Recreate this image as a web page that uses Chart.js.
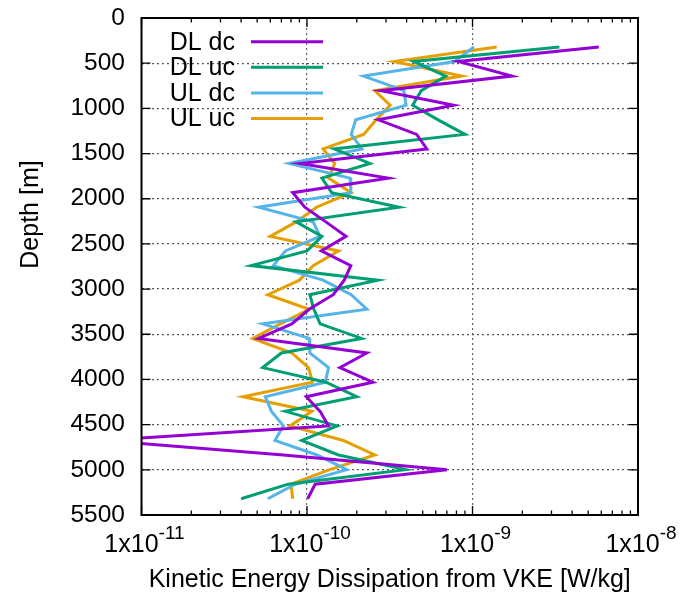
<!DOCTYPE html>
<html>
<head>
<meta charset="utf-8">
<script src="https://cdn.jsdelivr.net/npm/chart.js@4/dist/chart.umd.min.js"></script>
<style>
html,body{margin:0;padding:0;background:#fff;overflow:hidden;}
canvas{display:block;}
</style>
</head>
<body>
<canvas id="c" width="683" height="597"></canvas>
<script>
// ---- data (depth in m, dissipation in W/kg) ----
const depths = [320, 481, 643, 804, 965, 1127, 1288, 1449, 1610, 1772, 1933, 2094, 2256, 2417, 2578, 2740,
                2901, 3062, 3223, 3385, 3546, 3707, 3869, 4030, 4191, 4353, 4514, 4675, 4836, 4998, 5159, 5320];
const dlDc = [5.8e-9, 8.2e-10, 1.73e-9, 2.8e-10, 7.7e-10, 2.7e-10, 4.6e-10, 5.3e-10, 9.1e-11, 3.1e-10, 8.2e-11,
              9.7e-11, 1.3e-10, 1.72e-10, 1.22e-10, 1.84e-10, 1.68e-10, 1.44e-10, 1.03e-10, 8.1e-11, 5.1e-11,
              2.3e-10, 1.58e-10, 2.5e-10, 9.9e-11, 1.2e-10, 1.35e-10, 6e-12, 7.2e-11, 7e-10, 1.12e-10, 1.01e-10];
const dlUc = [3.35e-9, 4.4e-10, 6.9e-10, 4.9e-10, 4.35e-10, 6.2e-10, 9.0e-10, 1.46e-10, 2.4e-10, 1.23e-10, 1.41e-10,
              3.6e-10, 8.6e-11, 1.23e-10, 1.0e-10, 4.6e-11, 2.68e-10, 1.04e-10, 1.1e-10, 1.2e-10, 2.14e-10,
              7.0e-11, 5.4e-11, 1.3e-10, 2.0e-10, 7.4e-11, 1.52e-10, 9.3e-11, 1.55e-10, 3.94e-10, 7.7e-11, 4.0e-11];
const ulDc = [1.02e-9, 7.8e-10, 2.2e-10, 3.85e-10, 3.97e-10, 1.97e-10, 1.85e-10, 2.15e-10, 7.8e-11, 1.82e-10, 1.84e-10,
              5.1e-11, 1.09e-10, 1.2e-10, 7.4e-11, 6.25e-11, 1.25e-10, 1.85e-10, 2.3e-10, 5.4e-11, 1.03e-10,
              1.04e-10, 1.35e-10, 1.29e-10, 5.6e-11, 6.1e-11, 7.2e-11, 6.4e-11, 1.15e-10, 1.74e-10, 8.5e-11, 5.8e-11];
const ulUc = [1.4e-9, 3.36e-10, 8.6e-10, 2.57e-10, 3.18e-10, 2.62e-10, 2.2e-10, 1.25e-10, 1.47e-10, 1.35e-10, 1.85e-10,
              1.14e-10, 8.6e-11, 6.0e-11, 1.55e-10, 1.09e-10, 9.0e-11, 5.8e-11, 1.03e-10, 6.9e-11, 4.7e-11,
              8.1e-11, 1.02e-10, 1.08e-10, 4.1e-11, 1.07e-10, 7.9e-11, 1.66e-10, 2.57e-10, 1.37e-10, 8.0e-11, 8.2e-11];
const seriesLabels = ['DL dc', 'DL uc', 'UL dc', 'UL uc'];
const xTickValues = [1e-11, 1e-10, 1e-9, 1e-8];
const xTickBase = '1x10';
const xTickExponents = ['-11', '-10', '-9', '-8'];
const xTitle = 'Kinetic Energy Dissipation from VKE [W/kg]';
const yTitle = 'Depth [m]';

const colors = ['#9400D3', '#009E73', '#56B4E9', '#E69F00'];
const FONT = '"Liberation Sans", Arial, Helvetica, sans-serif';

function pts(vals) { return vals.map((v, i) => ({x: v, y: depths[i]})); }
const seriesValues = [dlDc, dlUc, ulDc, ulUc];

const decor = {
  id: 'decor',
  afterDatasetsDraw(chart) {
    const {ctx, chartArea: a, scales} = chart;
    const x = scales.x, y = scales.y;
    ctx.save();
    // frame
    ctx.strokeStyle = '#000';
    ctx.lineWidth = 2;
    ctx.strokeRect(a.left, a.top, a.right - a.left, a.bottom - a.top);
    // ticks
    ctx.lineWidth = 1.3;
    ctx.beginPath();
    y.ticks.forEach(t => {
      const py = y.getPixelForValue(t.value);
      ctx.moveTo(a.left, py); ctx.lineTo(a.left + 9, py);
      ctx.moveTo(a.right, py); ctx.lineTo(a.right - 9, py);
    });
    for (let d = 0; d < xTickValues.length; d++) {
      const dec = xTickValues[d];
      for (let k = 1; k < 10; k++) {
        if (d === xTickValues.length - 1 && k > 1) break;
        const px = x.getPixelForValue(dec * k);
        const L = k === 1 ? 9 : 4.5;
        ctx.moveTo(px, a.bottom); ctx.lineTo(px, a.bottom - L);
        ctx.moveTo(px, a.top); ctx.lineTo(px, a.top + L);
      }
    }
    ctx.stroke();

    // x tick labels with superscript exponents
    ctx.fillStyle = '#000';
    ctx.textBaseline = 'alphabetic';
    ctx.textAlign = 'left';
    xTickValues.forEach((v, i) => {
      const px = x.getPixelForValue(v);
      ctx.font = '25px ' + FONT;
      const wb = ctx.measureText(xTickBase).width;
      ctx.font = '19px ' + FONT;
      const we = ctx.measureText(xTickExponents[i]).width;
      const x0 = px - (wb + we) / 2 + 3;
      ctx.font = '25px ' + FONT;
      ctx.fillText(xTickBase, x0, 552);
      ctx.font = '19px ' + FONT;
      ctx.fillText(xTickExponents[i], x0 + wb, 539);
    });

    // x title
    ctx.font = '25px ' + FONT;
    ctx.textAlign = 'center';
    ctx.fillText(xTitle, (a.left + a.right) / 2, 587);

    // y title
    ctx.save();
    ctx.translate(38, (a.top + a.bottom) / 2 - 52);
    ctx.rotate(-Math.PI / 2);
    ctx.textAlign = 'center';
    ctx.textBaseline = 'alphabetic';
    ctx.fillText(yTitle, 0, 0);
    ctx.restore();

    // legend
    ctx.textAlign = 'right';
    ctx.textBaseline = 'middle';
    chart.data.datasets.forEach((ds, i) => {
      const cy = 41.7 + i * 25.6;
      ctx.fillStyle = '#000';
      ctx.font = '25px ' + FONT;
      ctx.fillText(ds.label, 235, cy + 1);
      ctx.strokeStyle = ds.borderColor;
      ctx.lineWidth = 3;
      ctx.beginPath();
      ctx.moveTo(251, cy); ctx.lineTo(323, cy);
      ctx.stroke();
    });
    ctx.restore();
  }
};

new Chart(document.getElementById('c'), {
  type: 'scatter',
  data: {
    datasets: seriesValues.map((vals, i) => ({
      label: seriesLabels[i],
      data: pts(vals),
      showLine: true,
      borderColor: colors[i],
      backgroundColor: colors[i],
      borderWidth: 3,
      pointRadius: 0,
      pointHoverRadius: 0,
      tension: 0,
      fill: false
    }))
  },
  options: {
    responsive: false,
    devicePixelRatio: 1,
    animation: false,
    events: [],
    layout: {padding: {top: 18, right: 45, left: 0, bottom: 0}},
    plugins: {legend: {display: false}, tooltip: {enabled: false}},
    scales: {
      x: {
        type: 'logarithmic',
        position: 'bottom',
        min: 1e-11,
        max: 1e-8,
        afterBuildTicks: s => { s.ticks = xTickValues.map(v => ({value: v})); },
        afterFit: s => { s.height = 82; s.paddingLeft = 0; s.paddingRight = 0; s.paddingTop = 0; s.paddingBottom = 0; },
        ticks: {display: false},
        grid: {
          drawTicks: false,
          lineWidth: 1.2,
          color: c => (c.tick && (c.tick.value === 1e-11 || c.tick.value === 1e-8)) ? 'rgba(0,0,0,0)' : '#666'
        },
        border: {display: false, dash: [2, 3]}
      },
      y: {
        type: 'linear',
        reverse: true,
        min: 0,
        max: 5500,
        afterFit: s => { s.width = 141.5; s.paddingTop = 0; s.paddingBottom = 0; s.paddingLeft = 0; s.paddingRight = 0; },
        ticks: {
          stepSize: 500,
          color: '#000',
          padding: 16.5,
          font: {family: FONT, size: 24.5},
          callback: v => String(v)
        },
        grid: {
          drawTicks: false,
          lineWidth: 1.2,
          color: c => (c.tick && (c.tick.value === 0 || c.tick.value === 5500)) ? 'rgba(0,0,0,0)' : '#555'
        },
        border: {display: false, dash: [2, 3]}
      }
    }
  },
  plugins: [decor]
});
</script>
</body>
</html>
